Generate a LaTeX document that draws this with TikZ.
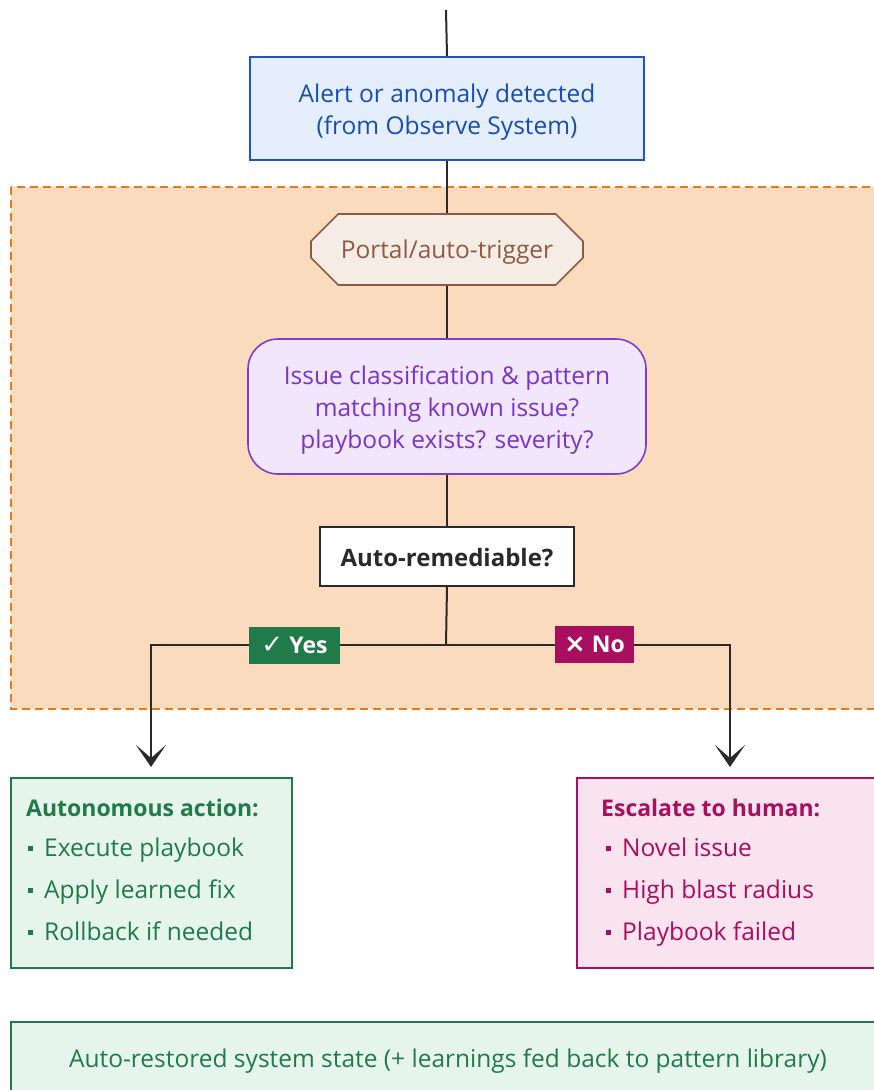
\documentclass[tikz,border=0pt]{standalone}
\usepackage{fontspec}
\setmainfont{Open Sans}
\newfontfamily\symfont{DejaVu Sans}
\usetikzlibrary{arrows.meta,shapes.misc}

\definecolor{linec}{HTML}{2A2A2A}
\definecolor{bluefill}{HTML}{E4EEFC}
\definecolor{bluedraw}{HTML}{1E56C0}
\definecolor{bluetext}{HTML}{1A4DB0}
\definecolor{zonefill}{HTML}{FADBBD}
\definecolor{zonedraw}{HTML}{E87A1E}
\definecolor{trigfill}{HTML}{F5ECE6}
\definecolor{trigdraw}{HTML}{8C5A45}
\definecolor{purpfill}{HTML}{F1E6FC}
\definecolor{purpdraw}{HTML}{7A3FCF}
\definecolor{purptext}{HTML}{7A34C8}
\definecolor{okgreen}{HTML}{217A4A}
\definecolor{okfill}{HTML}{E6F5EC}
\definecolor{escmag}{HTML}{A80F5E}
\definecolor{escfill}{HTML}{F9E3EE}

\tikzset{
  shell/.style={inner sep=0pt, line width=1.6pt},
  body/.style={font=\fontsize{24.5}{32}\selectfont, align=center, inner sep=0pt},
  flow/.style={draw=linec, line width=2pt},
  flowarrow/.style={flow, -{Stealth[length=22pt, width=30pt, inset=13pt]}},
  tagbox/.style={inner sep=0pt, minimum height=37pt, text=white,
    font=\fontsize{23}{24}\selectfont\bfseries},
  item/.style={anchor=base west, inner sep=0pt, font=\fontsize{24.5}{28}\selectfont},
  heading/.style={anchor=base west, inner sep=0pt, font=\fontsize{23}{28}\selectfont\bfseries},
}
\newcommand{\sqbullet}{\rule[0.2em]{5pt}{5pt}\hspace{11pt}}

\begin{document}
\begin{tikzpicture}[x=1pt, y=-1pt]
\useasboundingbox (0,0) rectangle (874,1090);
\clip (0,0) rectangle (874,1090);
\fill[white] (0,0) rectangle (874,1090);

% automated zone
\draw[fill=zonefill, draw=zonedraw, line width=2pt, dash pattern=on 8pt off 5pt]
  (11,187) rectangle (900,709);

% entry line
\coordinate (entry) at (446,10);

% step shapes
\node[shell, draw=bluedraw, fill=bluefill,
  minimum width=394pt, minimum height=103pt] (alert) at (447,108.5) {};
\node[body, text=bluetext] (alerttext) at (447,112)
  {Alert or anomaly detected\\(from Observe System)};

\node[body, chamfered rectangle, chamfered rectangle xsep=20pt, chamfered rectangle ysep=18pt,
  line width=1.6pt, draw=trigdraw, fill=trigfill, text=trigdraw, text depth=0pt,
  minimum width=272pt, minimum height=71pt] (trig) at (447,249.5) {Portal/auto-trigger};

\node[shell, rounded corners=30pt, draw=purpdraw, fill=purpfill,
  minimum width=398pt, minimum height=135pt] (classify) at (447,406.5) {};
\node[body, text=purptext] (classifytext) at (447,410.5)
  {Issue classification \& pattern\\matching known issue?\\playbook exists? severity?};

\node[shell, draw=linec, fill=white,
  minimum width=254pt, minimum height=59pt] (decide) at (447,556.5) {};
\node[body, text=linec, font=\fontsize{24}{32}\selectfont\bfseries] (decidetext) at (447,557.5)
  {Auto-remediable?};

\coordinate (split) at (446,645);
\coordinate (yesbend) at (151,645);
\coordinate (nobend) at (730,645);

% outcome boxes
\node[shell, draw=okgreen, fill=okfill,
  minimum width=281pt, minimum height=190pt] (auto) at (151.5,873) {};
\node[shell, draw=escmag, fill=escfill,
  minimum width=330pt, minimum height=190pt] (human) at (742,873) {};
\coordinate (autotop) at (151,767);
\coordinate (humantop) at (730,767);

\node[shell, draw=okgreen, fill=okfill,
  minimum width=900pt, minimum height=90pt] (restored) at (461,1067) {};
\node[inner sep=0pt, text=okgreen, font=\fontsize{24.5}{28}\selectfont] (restoredtext) at (448,1061)
  {Auto-restored system state (+ learnings fed back to pattern library)};

% connectors
\draw[flow] (entry) -- (alert.north);
\draw[flow] (alert.south) -- (trig.north);
\draw[flow] (trig.south) -- (classify.north);
\draw[flow] (classify.south) -- (decide.north);
\draw[flow] (decide.south) -- (split);
\draw[flowarrow] (split) -- (yesbend) -- (autotop);
\draw[flowarrow] (split) -- (nobend) -- (humantop);

% branch tags
\node[tagbox, fill=okgreen, minimum width=91pt] (yes) at (294.5,645.5)
  {{\symfont\fontsize{26}{24}\selectfont ✓}\hspace{6pt}Yes};
\node[tagbox, fill=escmag, minimum width=79pt] (no) at (594.5,644)
  {{\symfont\fontsize{26}{24}\selectfont ×}\hspace{6pt}No};

% outcome contents
\node[heading, text=okgreen] (autohead) at (26,816) {Autonomous action:};
\node[item, text=okgreen] (auto1) at (28,856) {\sqbullet Execute playbook};
\node[item, text=okgreen] (auto2) at (28,898) {\sqbullet Apply learned fix};
\node[item, text=okgreen] (auto3) at (28,940) {\sqbullet Rollback if needed};

\node[heading, text=escmag] (humanhead) at (601,816) {Escalate to human:};
\node[item, text=escmag] (human1) at (606,856) {\sqbullet Novel issue};
\node[item, text=escmag] (human2) at (606,898) {\sqbullet High blast radius};
\node[item, text=escmag] (human3) at (606,940) {\sqbullet Playbook failed};
\end{tikzpicture}
\end{document}
